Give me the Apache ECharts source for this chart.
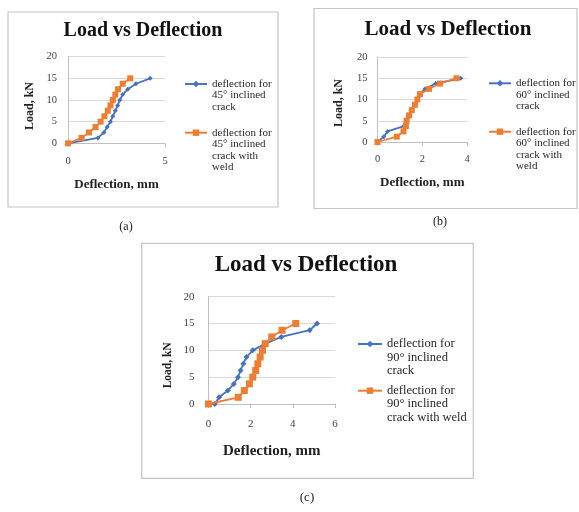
<!DOCTYPE html>
<html>
<head>
<meta charset="utf-8">
<style>
  html, body { margin: 0; padding: 0; background: #ffffff; }
  #chart { width: 579px; height: 512px; }
</style>
<script src="https://cdn.jsdelivr.net/npm/echarts@6/dist/echarts.min.js"></script>
</head>
<body>
<div id="chart"></div>
<script>
// Applied load steps (kN), shared by every test series
const loadKN = [0, 1.25, 2.5, 3.75, 5, 6.25, 7.5, 8.75, 10, 11.25, 12.5, 13.75, 15];

// Measured deflection (mm) at each load step
const deflCrack45 = [0, 1.54, 1.85, 2.02, 2.19, 2.31, 2.44, 2.56, 2.67, 2.82, 3.08, 3.5, 4.24];
const deflWeld45  = [0, 0.70, 1.08, 1.42, 1.68, 1.88, 2.05, 2.19, 2.31, 2.44, 2.58, 2.82, 3.21];
const deflCrack60 = [0, 0.28, 0.45, 1.18, 1.3, 1.45, 1.55, 1.68, 1.8, 1.88, 2.12, 2.6, 3.72];
const deflWeld60  = [0, 0.86, 1.16, 1.27, 1.3, 1.41, 1.53, 1.67, 1.78, 1.9, 2.3, 2.79, 3.53];
const deflCrack90 = [0.3, 0.5, 0.92, 1.2, 1.4, 1.52, 1.65, 1.8, 2.1, 2.7, 3.45, 4.8, 5.15];
const deflWeld90  = [0, 1.41, 1.7, 1.94, 2.1, 2.24, 2.34, 2.45, 2.56, 2.69, 3.0, 3.49, 4.14];

// Series names and the wrapped legend text
const names = [
  'deflection for 45° inclined crack',
  'deflection for 45° inclined crack with weld',
  'deflection for 60° inclined crack',
  'deflection for 60° inclined crack with weld',
  'deflection for 90° inclined crack',
  'deflection for 90° inclined crack with weld'
];
const legendText = [
  'deflection for\n45° inclined\ncrack',
  'deflection for\n45° inclined\ncrack with\nweld',
  'deflection for\n60° inclined\ncrack',
  'deflection for\n60° inclined\ncrack with\nweld',
  'deflection for\n90° inclined\ncrack',
  'deflection for\n90° inclined\ncrack with weld'
];

const chartTitle = 'Load vs Deflection';
const xName = 'Deflection, mm';
const yName = 'Load, kN';
const captions = ['(a)', '(b)', '(c)'];
const xMax = [5, 4, 6];
const xStep = [5, 2, 2];

const BLUE = '#4472C4';
const ORANGE = '#ED7D31';
const SERIF = '"Liberation Serif", "Times New Roman", serif';

function pairs(xs) { return xs.map((x, i) => [x, loadKN[i]]); }

// Panel layout: frame, title, plot area, legend
const panels = [
  { box: [8, 12, 270, 195], title: [143, 31, 20], grid: [68, 56.7, 97, 86.6],
    tick: 10.5, xGap: 12, yGap: 11, nameSize: 13, yNameSize: 12, xNameGap: 35, yNameGap: 32, yNameShift: 12,
    legend: [[184, 84], [184, 132.7]], legW: 22, legFont: 11, legLh: 11.5, cap: [126, 226.7, 12] },
  { box: [314, 8.5, 263, 200], title: [448, 30, 21], grid: [377.5, 57, 89.5, 85],
    tick: 10.5, xGap: 12, yGap: 10, nameSize: 13, yNameSize: 12, xNameGap: 34, yNameGap: 33, yNameShift: 7,
    legend: [[488, 83.3], [488, 131.7]], legW: 22, legFont: 11, legLh: 11.5, cap: [440, 221.7, 12] },
  { box: [141.7, 243.3, 331.6, 235], title: [306, 265, 23], grid: [208.5, 296.7, 126.5, 107.3],
    tick: 11, xGap: 15, yGap: 14, nameSize: 15, yNameSize: 11.5, xNameGap: 40, yNameGap: 34, yNameShift: 30,
    legend: [[357, 344], [357, 390.7]], legW: 24, legFont: 12.5, legLh: 13.4, cap: [307, 498, 13] }
];

const seriesX = [deflCrack45, deflWeld45, deflCrack60, deflWeld60, deflCrack90, deflWeld90];

const grids = [], xAxes = [], yAxes = [], series = [], legends = [], graphics = [];

panels.forEach((p, k) => {
  graphics.push({
    type: 'rect', silent: true,
    shape: { x: p.box[0], y: p.box[1], width: p.box[2], height: p.box[3] },
    style: { fill: 'none', stroke: '#c4c4c4', lineWidth: 1.2 }
  });
  graphics.push({
    type: 'text', silent: true, x: p.title[0], y: p.title[1],
    style: { text: chartTitle, align: 'center', verticalAlign: 'middle',
      font: 'bold ' + p.title[2] + 'px ' + SERIF, fill: '#111111' }
  });
  graphics.push({
    type: 'text', silent: true, x: p.cap[0], y: p.cap[1],
    style: { text: captions[k], align: 'center', verticalAlign: 'middle',
      font: p.cap[2] + 'px ' + SERIF, fill: '#222222' }
  });

  grids.push({ left: p.grid[0], top: p.grid[1], width: p.grid[2], height: p.grid[3], containLabel: false });

  xAxes.push({
    type: 'value', gridIndex: k, min: 0, max: xMax[k], interval: xStep[k],
    name: xName, nameLocation: 'middle', nameGap: p.xNameGap,
    nameTextStyle: { fontFamily: SERIF, fontWeight: 'bold', fontSize: p.nameSize, color: '#222222' },
    axisLine: { show: true, lineStyle: { color: '#bfbfbf', width: 1 } },
    axisTick: { show: true, length: 4, lineStyle: { color: '#bfbfbf' } },
    axisLabel: { fontFamily: SERIF, fontSize: p.tick, color: '#404040', margin: p.xGap },
    splitLine: { show: false }
  });
  yAxes.push({
    type: 'value', gridIndex: k, min: 0, max: 20, interval: 5,
    name: yName, nameLocation: 'middle', nameGap: p.yNameGap,
    nameTextStyle: { fontFamily: SERIF, fontWeight: 'bold', fontSize: p.yNameSize, color: '#222222',
      padding: [0, p.yNameShift, 0, 0] },
    axisLine: { show: true, lineStyle: { color: '#bfbfbf', width: 1 } },
    axisTick: { show: false },
    axisLabel: { fontFamily: SERIF, fontSize: p.tick, color: '#404040', margin: p.yGap },
    splitLine: { show: true, lineStyle: { color: '#d9d9d9', width: 1 } }
  });

  [0, 1].forEach(j => {
    const idx = k * 2 + j;
    const weld = j === 1;
    const symSize = weld ? (k === 2 ? 7 : 6) : (k === 2 ? 6 : 5);
    series.push({
      type: 'line', name: names[idx], xAxisIndex: k, yAxisIndex: k,
      data: pairs(seriesX[idx]),
      symbol: weld ? 'rect' : 'diamond', symbolSize: symSize,
      showAllSymbol: true,
      lineStyle: { color: weld ? ORANGE : BLUE, width: 1.8 },
      itemStyle: { color: weld ? ORANGE : BLUE },
      z: weld ? 3 : 2
    });
    // Leading blank lines keep the first text line level with the legend icon
    const lines = legendText[idx].split('\n').length;
    const shown = '\n'.repeat(lines - 1) + legendText[idx];
    const [lx, ly] = p.legend[j];
    const ih = 8;
    legends.push({
      data: [names[idx]],
      left: lx, top: ly - (2 * lines - 1) * p.legLh / 2,
      padding: 0, itemWidth: p.legW, itemHeight: ih, selectedMode: false,
      formatter: () => shown,
      textStyle: { fontFamily: SERIF, fontSize: p.legFont, lineHeight: p.legLh, color: '#262626' }
    });
  });
});

const chart = echarts.init(document.getElementById('chart'), null, { renderer: 'canvas' });
chart.setOption({
  animation: false,
  backgroundColor: '#ffffff',
  grid: grids,
  xAxis: xAxes,
  yAxis: yAxes,
  legend: legends,
  series: series,
  graphic: graphics
});
</script>
</body>
</html>
